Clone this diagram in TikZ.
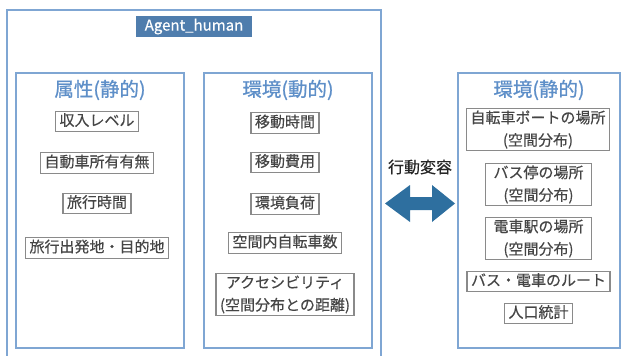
\documentclass[tikz,border=0pt]{standalone}
\usepackage{fontspec}
\setmainfont{Noto Sans CJK JP}
\newfontfamily\medfont[FakeBold=0.4]{Noto Sans CJK JP}
\newfontfamily\semifont[FakeBold=0.8]{Noto Sans CJK JP}
\usetikzlibrary{positioning}
\definecolor{frameblue}{HTML}{7FA6D3}
\definecolor{titleblue}{HTML}{5E8FC8}
\definecolor{labelblue}{HTML}{4F7DAD}
\definecolor{itemgray}{HTML}{8A8A8A}
\definecolor{itemtext}{HTML}{454545}
\definecolor{arrowblue}{HTML}{2E6F9F}
\tikzset{
  frame/.style={draw=frameblue, line width=1.3pt},
  itembase/.style={draw=itemgray, line width=1.3pt, text=itemtext, inner xsep=4pt, inner ysep=2pt,
    font=\medfont\fontsize{15}{22.5}\selectfont, align=center},
  item/.style={itembase, text height=12.5pt, text depth=4pt},
  ttl/.style={text=titleblue, font=\semifont\fontsize{19.5}{22}\selectfont},
}
\begin{document}
\begin{tikzpicture}[x=1pt,y=-1pt]
\useasboundingbox (0,0) rectangle (621,356);
\clip (0,0) rectangle (621,356);
% outer agent box
\draw[frame] (7,380) -- (7,10) -- (381,10) -- (381,380);
\node[fill=labelblue, text=white, font=\medfont\fontsize{15}{17}\selectfont, minimum width=116pt, minimum height=21pt, inner sep=0pt] (agent) at (194,26.5) {Agent\_human};
% three panels
\node[frame, minimum width=168pt, minimum height=275pt, inner sep=0pt] (p1) at (100,210.5) {};
\node[frame, minimum width=168pt, minimum height=275pt, inner sep=0pt] (p2) at (288,210.5) {};
\node[frame, minimum width=162pt, minimum height=275pt, inner sep=0pt] (p3) at (539,210.5) {};
\node[ttl] (t1) at (100,90) {属性(静的)};
\node[ttl] (t2) at (288,90) {環境(動的)};
\node[ttl] (t3) at (539,90) {環境(静的)};
% panel 1 items
\node[item] (a1) at (97,121.5) {収入レベル};
\node[item] (a2) at (97,163) {自動車所有有無};
\node[item] (a3) at (97,203.5) {旅行時間};
\node[item] (a4) at (97,248) {旅行出発地・目的地};
% panel 2 items
\node[item] (b1) at (285,123) {移動時間};
\node[item] (b2) at (285,162.5) {移動費用};
\node[item] (b3) at (285,204) {環境負荷};
\node[item] (b4) at (285,243) {空間内自転車数};
\node[itembase] (b5) at (285,294.5) {アクセシビリティ\\(空間分布との距離)};
% panel 3 items
\node[itembase] (c1) at (538,129.5) {自転車ポートの場所\\(空間分布)};
\node[itembase, inner xsep=8pt] (c2) at (538.5,184.5) {バス停の場所\\(空間分布)};
\node[itembase, inner xsep=8pt] (c3) at (538.5,238.5) {電車駅の場所\\(空間分布)};
\node[item] (c4) at (538.5,281.5) {バス・電車のルート};
\node[item] (c5) at (538.5,313.5) {人口統計};
% behaviour change
\node[text=black!85, font=\medfont\fontsize{16}{18}\selectfont] (bc) at (420,167) {行動変容};
\fill[arrowblue] (385,203.5) -- (410,185) -- (410,197) -- (432,197) -- (432,185) -- (455,203.5)
  -- (432,222) -- (432,210) -- (410,210) -- (410,222) -- cycle;
\end{tikzpicture}
\end{document}
